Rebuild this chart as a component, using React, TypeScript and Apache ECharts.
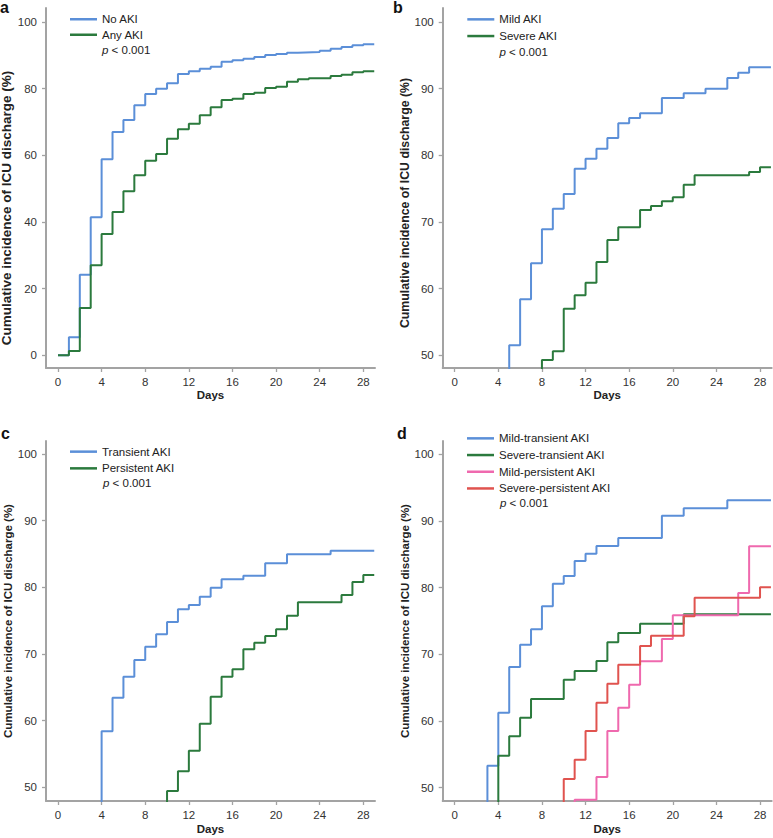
import React, { useEffect, useRef } from "react";
import * as echarts from "echarts";

// ---- Data (day, cumulative incidence %) ----
const xTickValues = [0, 4, 8, 12, 16, 20, 24, 28];
const yTicksA = [0, 20, 40, 60, 80, 100];
const yTicksB = [50, 60, 70, 80, 90, 100];

const noAki = [[0, 0], [1, 5.4], [2, 24.2], [3, 41.4], [4, 58.8], [5, 67], [6, 70.6], [7, 75], [8, 78.4], [9, 80], [10, 81.6], [11, 84.4], [12, 85.2], [13, 86], [14, 86.6], [15, 88.1], [16, 88.5], [17, 89], [18, 89.5], [19, 90.1], [20, 90.4], [21, 90.8], [22, 91], [24, 91.4], [25, 92], [26, 92.5], [27, 93], [28, 93.3], [29, 93.3]];
const anyAki = [[0, 0], [1, 1.3], [2, 14.2], [3, 27], [4, 36.4], [5, 43], [6, 49.2], [7, 54], [8, 58.4], [9, 60.4], [10, 65], [11, 67.8], [12, 69.5], [13, 72], [14, 74.4], [15, 76.6], [16, 77], [17, 78.4], [18, 78.8], [19, 80.2], [20, 80.6], [21, 82.1], [22, 82.8], [23, 83.1], [25, 83.8], [26, 84.2], [27, 84.9], [28, 85.2], [29, 85.2]];

const mildAki = [[0, 0], [5, 51.5], [6, 58.4], [7, 63.8], [8, 68.9], [9, 72], [10, 74.2], [11, 78], [12, 79.5], [13, 81], [14, 82.6], [15, 84.8], [16, 85.6], [17, 86.3], [19, 88.6], [21, 89.3], [23, 90], [25, 91.6], [26, 92.4], [27, 93.2], [29, 93.2]];
const severeAki = [[0, 0], [8, 49.3], [9, 50.6], [10, 57], [11, 59], [12, 60.9], [13, 64], [14, 67.3], [15, 69.2], [17, 71.8], [18, 72.4], [19, 73.1], [20, 73.7], [21, 75.6], [22, 77], [27, 77.5], [28, 78.2], [29, 78.2]];

const transientAki = [[0, 0], [4, 58.4], [5, 63.45], [6, 66.6], [7, 69.1], [8, 71.1], [9, 72.95], [10, 74.8], [11, 76.7], [12, 77.35], [13, 78.6], [14, 79.95], [15, 81.2], [17, 81.75], [19, 83.6], [21, 84.95], [25, 85.5], [29, 85.5]];
const persistentAki = [[0, 0], [10, 49.45], [11, 52.4], [12, 55.5], [13, 59.55], [14, 63.6], [15, 66.6], [16, 67.7], [17, 70.7], [18, 71.7], [19, 72.7], [20, 73.7], [21, 75.75], [22, 77.75], [26, 78.85], [27, 80.8], [28, 81.85], [29, 81.85]];

const mildTransient = [[0, 0], [3, 53.3], [4, 61.25], [5, 68.1], [6, 71.45], [7, 73.75], [8, 77.2], [9, 80.6], [10, 81.75], [11, 84], [12, 85.1], [13, 86.25], [15, 87.45], [19, 90.8], [21, 91.9], [25, 93.1], [29, 93.1]];
const severeTransient = [[0, 0], [4, 54.8], [5, 57.7], [6, 60.5], [7, 63.3], [10, 66.2], [11, 67.5], [13, 69], [14, 71.8], [15, 73.2], [17, 74.6], [21, 76], [29, 76]];
const mildPersistent = [[0, 0], [11, 48.2], [13, 51.6], [14, 58.5], [15, 62], [16, 65.45], [17, 68.95], [19, 72.3], [20, 75.85], [26, 79.2], [27, 86.2], [29, 86.2]];
const severePersistent = [[0, 0], [10, 51.3], [11, 54.2], [12, 58.5], [13, 62.75], [14, 65.6], [15, 68.45], [17, 71.25], [18, 72.8], [21, 75.7], [22, 78.5], [28, 80.05], [29, 80.05]];

const BLUE = "#5b8fd8";
const GREEN = "#2b7a3d";
const PINK = "#ef69ae";
const RED = "#e0534f";
const AXIS = "#a3a3a3";
const FONT = "'Liberation Sans', Arial, Helvetica, sans-serif";

const panels = [
  { letter: "a", grid: { left: 46, top: 8, width: 329, height: 360 }, y: [-3.8, 104.2], yTicks: yTicksA, daysGap: 16,
    title: { size: 13.5, shift: 40, gap: 28.5 },
    series: [{ name: "No AKI", data: noAki, color: BLUE }, { name: "Any AKI", data: anyAki, color: GREEN }],
    legend: { left: 70, top: 11.5, lh: 15.5 }, p: { x: 102, y: 50 }, letterPos: { x: 0, y: 7.5 } },
  { letter: "b", grid: { left: 442.7, top: 8, width: 329, height: 360 }, y: [48.1, 102.1], yTicks: yTicksB, daysGap: 16,
    title: { size: 12.3, shift: 30, gap: 29 },
    series: [{ name: "Mild AKI", data: mildAki, color: BLUE }, { name: "Severe AKI", data: severeAki, color: GREEN }],
    legend: { left: 467.3, top: 11, lh: 16.7 }, p: { x: 499.5, y: 51.7 }, letterPos: { x: 393, y: 7.5 } },
  { letter: "c", grid: { left: 46, top: 441, width: 329, height: 360 }, y: [47.95, 101.95], yTicks: yTicksB, daysGap: 22,
    title: { size: 11.5, shift: 0, gap: 29.5 },
    series: [{ name: "Transient AKI", data: transientAki, color: BLUE }, { name: "Persistent AKI", data: persistentAki, color: GREEN }],
    legend: { left: 70, top: 443.3, lh: 16.7 }, p: { x: 103, y: 483.3 }, letterPos: { x: 1, y: 433 } },
  { letter: "d", grid: { left: 442.7, top: 441, width: 329, height: 360 }, y: [48, 102], yTicks: yTicksB, daysGap: 22,
    title: { size: 11.5, shift: 0, gap: 29.5 },
    series: [
      { name: "Mild-transient AKI", data: mildTransient, color: BLUE },
      { name: "Severe-transient AKI", data: severeTransient, color: GREEN },
      { name: "Mild-persistent AKI", data: mildPersistent, color: PINK },
      { name: "Severe-persistent AKI", data: severePersistent, color: RED },
    ],
    legend: { left: 467, top: 430, lh: 16.7 }, p: { x: 500, y: 503.3 }, letterPos: { x: 397, y: 433 } },
];

function buildOption() {
  const grid: any[] = [];
  const xAxis: any[] = [];
  const yAxis: any[] = [];
  const series: any[] = [];
  const legend: any[] = [];
  const graphic: any[] = [];

  panels.forEach((p, i) => {
    grid.push({ ...p.grid, containLabel: false, outerBoundsMode: "none" });
    xAxis.push({
      type: "value", gridIndex: i, min: -1.1, max: 29.07,
      name: "Days", nameLocation: "middle", nameGap: p.daysGap,
      nameTextStyle: { fontWeight: "bold", fontSize: 11.5, color: "#222", fontFamily: FONT },
      axisLine: { show: true, onZero: false, lineStyle: { color: AXIS, width: 2 } },
      axisTick: { show: true, length: 4, customValues: xTickValues, lineStyle: { color: AXIS, width: 1.3 } },
      axisLabel: { show: true, customValues: xTickValues, color: "#333", fontSize: 11.5, margin: 8, fontFamily: FONT },
      splitLine: { show: false },
    });
    yAxis.push({
      type: "value", gridIndex: i, min: p.y[0], max: p.y[1],
      name: "Cumulative incidence of ICU discharge (%)", nameLocation: "middle", nameGap: p.title.gap,
      nameTextStyle: { fontWeight: "bold", fontSize: p.title.size, color: "#222", fontFamily: FONT, padding: [0, p.title.shift, 0, 0] },
      axisLine: { show: true, onZero: false, lineStyle: { color: AXIS, width: 2 } },
      axisTick: { show: true, length: 4, customValues: p.yTicks, lineStyle: { color: AXIS, width: 1.3 } },
      axisLabel: { show: true, customValues: p.yTicks, color: "#333", fontSize: 11.5, margin: 9, fontFamily: FONT },
      splitLine: { show: false },
    });
    p.series.forEach((s) => {
      series.push({
        type: "line", name: s.name, xAxisIndex: i, yAxisIndex: i, data: s.data,
        step: "end", showSymbol: false, symbol: "none", clip: true,
        color: s.color,
        lineStyle: { color: s.color, width: 2 },
        itemStyle: { color: s.color },
        emphasis: { disabled: true },
      });
    });
    legend.push({
      orient: "vertical", left: p.legend.left, top: p.legend.top, padding: 0, itemGap: 0,
      icon: "rect", itemWidth: 27, itemHeight: 2.5, selectedMode: false,
      data: p.series.map((s) => s.name),
      textStyle: { fontSize: 11.5, color: "#222", fontFamily: FONT, lineHeight: p.legend.lh },
    });
    graphic.push({
      type: "text", x: p.p.x, y: p.p.y,
      style: {
        text: "{i|p} < 0.001", fill: "#222", fontSize: 11.5, fontFamily: FONT, verticalAlign: "middle", align: "left",
        rich: { i: { fontStyle: "italic", fontSize: 11.5, fontFamily: FONT, fill: "#222" } },
      },
    });
    graphic.push({
      type: "text", x: p.letterPos.x, y: p.letterPos.y,
      style: { text: p.letter, fill: "#111", fontSize: 16, fontWeight: "bold", fontFamily: FONT, verticalAlign: "middle", align: "left" },
    });
  });

  return { animation: false, backgroundColor: "#fff", grid, xAxis, yAxis, series, legend, graphic, tooltip: { show: false } };
}

export default function App() {
  const ref = useRef<HTMLDivElement>(null);
  useEffect(() => {
    if (!ref.current) return;
    const chart = echarts.init(ref.current, undefined, { renderer: "svg" });
    chart.setOption(buildOption());
    return () => chart.dispose();
  }, []);
  return <div ref={ref} style={{ position: "absolute", left: 0, top: 0, width: 773, height: 838 }} />;
}
